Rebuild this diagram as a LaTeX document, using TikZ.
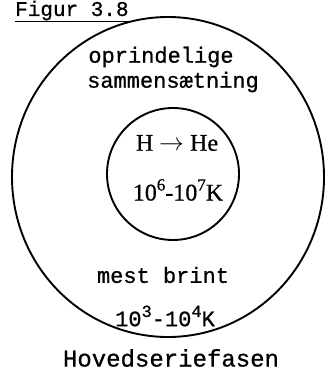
\documentclass[tikz,border=0pt]{standalone}
\usepackage{fontspec}
\usetikzlibrary{shapes.geometric}
\setmainfont[FakeBold=0.6]{Liberation Serif}
\setmonofont[FakeBold=0.8]{Liberation Mono}
\newcommand{\supx}[1]{\raisebox{0.42em}{\fontsize{17}{18}\selectfont #1}}
\begin{document}
\begin{tikzpicture}[x=1pt,y=-1pt,
  ring/.style={draw=black,line width=1.9pt},
  tw/.style={font=\fontsize{22}{24}\selectfont\ttfamily,inner sep=0pt},
  sf/.style={font=\fontsize{24}{26}\selectfont\rmfamily,inner sep=0pt}]
\useasboundingbox (0,0) rectangle (330,371);
\node[ring,ellipse,minimum width=312pt,minimum height=320pt,inner sep=0pt] (outer) at (168,177) {};
\node[ring,circle,minimum size=132pt,inner sep=0pt] (inner) at (173,174) {};
\node[tw,anchor=base west,font=\fontsize{21}{22}\selectfont\ttfamily] (fig) at (15,16) {Figur 3.8};
\draw[line width=1pt] (fig.south west) ++(0,0.5) coordinate (u1) -- (u1 -| fig.south east);
\node[tw] (t1) at (161,57) {oprindelige};
\node[tw] (t2) at (173,82) {sammensætning};
\node[sf] (t3) at (177,143) {H \ensuremath{\rightarrow} He};
\node[sf] (t4) at (178,190) {10\supx{6}-10\supx{7}K};
\node[tw] (t5) at (163,275) {mest brint};
\node[tw] (t6) at (165,316) {10\supx{3}-10\supx{4}K};
\node[tw,font=\fontsize{24}{26}\selectfont\ttfamily] (t7) at (171,358) {Hovedseriefasen};
\end{tikzpicture}
\end{document}
